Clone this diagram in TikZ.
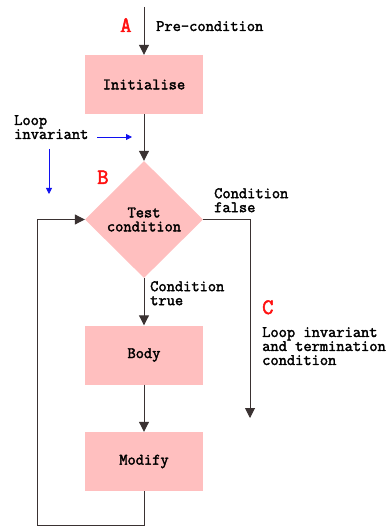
\documentclass[tikz,border=0pt]{standalone}
\usepackage{fontspec}
\setmonofont{Latin Modern Mono}[BoldFont={Latin Modern Mono},
  BoldFeatures={FakeBold=2.2}]
\usepackage{tikz}
\usetikzlibrary{arrows.meta,shapes.geometric,positioning}
\definecolor{StepPink}{HTML}{FFBFBF}
\definecolor{FlowLine}{HTML}{3A3232}
\definecolor{MarkRed}{HTML}{FF1010}
\definecolor{NoteBlue}{HTML}{1010F0}

\begin{document}
\begin{tikzpicture}[x=1pt, y=-1pt,
  every node/.style={font=\ttfamily\bfseries\fontsize{16}{14}\selectfont},
  stepbox/.style={fill=StepPink, minimum width=118pt, minimum height=59pt,
               inner sep=0pt, align=center},
  testbox/.style={diamond, fill=StepPink, minimum width=118pt,
               minimum height=117pt, inner sep=0pt, align=center},
  note/.style={align=left, inner sep=0pt, anchor=north west},
  letter/.style={text=MarkRed, inner sep=0pt, anchor=base west,
               font=\ttfamily\bfseries\fontsize{22}{22}\selectfont},
  arr/.style={-{Triangle[length=10pt, width=10pt]}, line width=1pt, FlowLine},
  line/.style={line width=1pt, FlowLine},
  blue arr/.style={-{Triangle[length=6pt, width=6pt]}, line width=0.8pt, NoteBlue}
]
  \useasboundingbox (0,0) rectangle (391,526);

  % flow chart steps
  \node[stepbox] (init) at (144,84.5) {Initialise};
  \node[testbox] (test) at (144,219.5) {Test\\condition};
  \node[stepbox] (body) at (144,355) {Body};
  \node[stepbox] (modify) at (144,461.5) {Modify};

  \coordinate (start) at (144,7);
  \coordinate (exit) at (250,418);
  \coordinate (back) at (37,525);

  % connectors
  \draw[arr] (start) -- (init.north);
  \draw[arr] (init.south) -- (test.north);
  \draw[arr] (test.south) -- (body.north);
  \draw[arr] (body.south) -- (modify.north);
  \draw[arr] (test.east) -| (exit);
  \draw[arr] (modify.south) |- (back) |- (test.west);

  % labels
  \node[letter] (pa) at (120,32) {A};
  \node[letter] (pb) at (97,184) {B};
  \node[letter] (pc) at (262,314) {C};
  \node[note] (pre) at (156,21) {Pre-condition};
  \node[note] (inv) at (14,115) {Loop\\invariant};
  \node[note] (false) at (214,188) {Condition\\false};
  \node[note] (true) at (150,281) {Condition\\true};
  \node[note] (term) at (262,327) {Loop invariant\\and termination\\condition};

  % invariant pointers
  \coordinate (inva) at (97,137);
  \coordinate (invb) at (132,137);
  \coordinate (invc) at (49,149);
  \coordinate (invd) at (49,194);
  \draw[blue arr] (inva) -- (invb);
  \draw[blue arr] (invc) -- (invd);
\end{tikzpicture}
\end{document}
